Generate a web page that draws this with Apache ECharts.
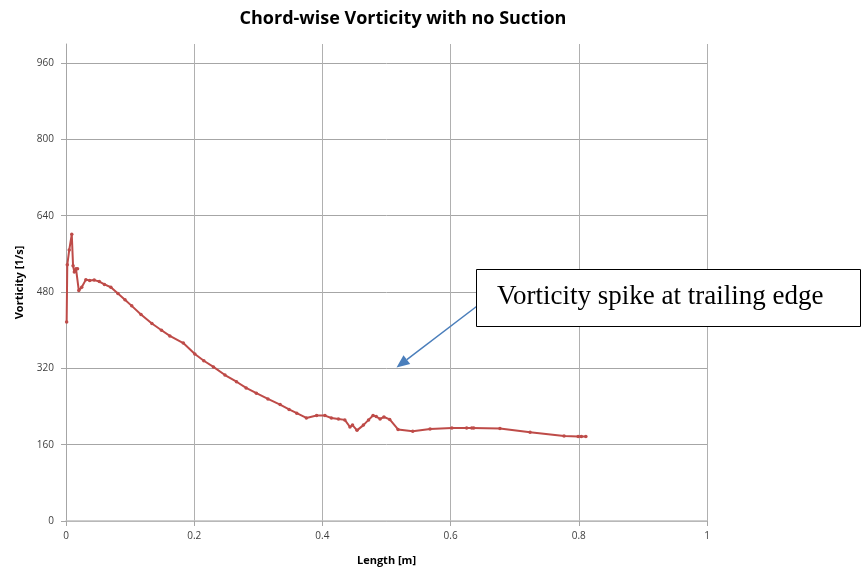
<!DOCTYPE html>
<html>
<head>
<meta charset="utf-8">
<script src="https://cdn.jsdelivr.net/npm/echarts@6/dist/echarts.min.js"></script>
<style>
  html, body { margin: 0; padding: 0; background: #fff; }
  #chart { width: 861px; height: 571px; }
</style>
</head>
<body>
<div id="chart"></div>
<script>
// chord position [m]
const lengthM = [
  0.001, 0.002, 0.005, 0.009, 0.011, 0.013, 0.0156, 0.018, 0.020, 0.0245,
  0.031, 0.037, 0.044, 0.052, 0.060, 0.070, 0.081, 0.092, 0.1025, 0.117,
  0.134, 0.149, 0.162, 0.183, 0.201, 0.215, 0.230, 0.248, 0.266, 0.281,
  0.297, 0.315, 0.334, 0.348, 0.360, 0.375, 0.391, 0.404, 0.414, 0.425,
  0.435, 0.443, 0.447, 0.454, 0.464, 0.472, 0.479, 0.484, 0.490, 0.496,
  0.505, 0.518, 0.541, 0.568, 0.602, 0.625, 0.633, 0.636, 0.677, 0.724,
  0.777, 0.799, 0.804, 0.811
];
// vorticity [1/s]
const vorticity = [
  417, 537, 568, 601, 535, 522, 529, 529, 483, 490,
  506, 504, 505, 502, 496, 490, 477, 464, 451, 433,
  414, 400, 388, 373, 350, 336, 323, 306, 292, 279,
  268, 256, 244, 234, 226, 216, 221, 221, 216, 214,
  212, 197, 201, 190, 201, 212, 221, 219, 214, 218,
  213, 192, 188, 193, 195, 195, 195, 195, 194, 186,
  178, 177, 177, 177
];

const chart = echarts.init(document.getElementById('chart'));

// annotation arrow (pixel positions of the callout)
const arrowFrom = [476.5, 306.5];
const arrowTo = [396.5, 367.5];
const dx = arrowTo[0] - arrowFrom[0], dy = arrowTo[1] - arrowFrom[1];
const len = Math.sqrt(dx * dx + dy * dy);
const ux = dx / len, uy = dy / len;
const headL = 13, headW = 5.5;
const bx = arrowTo[0] - ux * headL, by = arrowTo[1] - uy * headL;
const headPts = [
  arrowTo,
  [bx - uy * headW, by + ux * headW],
  [bx + uy * headW, by - ux * headW]
];

const labelFont = { fontFamily: 'Open Sans', fontSize: 10, color: '#404040' };

chart.setOption({
  animation: false,
  title: {
    text: 'Chord-wise Vorticity with no Suction',
    left: 398,
    top: 5,
    textAlign: 'center',
    textStyle: { fontFamily: 'Open Sans', fontSize: 18, fontWeight: 'bold', color: '#000' }
  },
  grid: { left: 66, right: 154, top: 44, bottom: 43 },
  xAxis: {
    type: 'value',
    min: 0,
    max: 1,
    interval: 0.2,
    name: 'Length [m]',
    nameLocation: 'middle',
    nameGap: 34,
    nameTextStyle: { fontFamily: 'Open Sans', fontSize: 11, fontWeight: 'bold', color: '#000' },
    axisLine: { show: true, onZero: false, lineStyle: { color: '#bfbfbf', width: 1.5 } },
    axisTick: { show: true, inside: false, length: 5, lineStyle: { color: '#a6a6a6' } },
    axisLabel: Object.assign({ margin: 10 }, labelFont),
    splitLine: { show: true, lineStyle: { color: '#b0b0b0', width: 1 } }
  },
  yAxis: {
    type: 'value',
    min: 0,
    max: 1000,
    interval: 160,
    name: 'Vorticity [1/s]',
    nameLocation: 'middle',
    nameGap: 41,
    nameTextStyle: { fontFamily: 'Open Sans', fontSize: 11, fontWeight: 'bold', color: '#000' },
    axisLine: { show: true, lineStyle: { color: '#a6a6a6' } },
    axisTick: { show: true, inside: false, length: 5, lineStyle: { color: '#a6a6a6' } },
    axisLabel: Object.assign({ margin: 12, showMaxLabel: false }, labelFont),
    splitLine: { show: true, showMaxLine: false, lineStyle: { color: '#a6a6a6', width: 1 } }
  },
  series: [{
    type: 'line',
    data: lengthM.map((x, i) => [x, vorticity[i]]),
    symbol: 'circle',
    symbolSize: 3.5,
    showAllSymbol: true,
    lineStyle: { color: '#be4b48', width: 2 },
    itemStyle: { color: '#be4b48' }
  }],
  graphic: [
    {
      type: 'polyline',
      z: 100,
      shape: { points: [arrowFrom, [bx, by]] },
      style: { stroke: '#4a7ebb', lineWidth: 1.5, fill: null }
    },
    {
      type: 'polygon',
      z: 100,
      shape: { points: headPts },
      style: { fill: '#4a7ebb' }
    },
    {
      type: 'rect',
      z: 100,
      shape: { x: 476.5, y: 269.5, width: 384, height: 57 },
      style: { fill: '#fff', stroke: '#000', lineWidth: 1 }
    },
    {
      type: 'text',
      z: 101,
      x: 497,
      y: 297,
      style: {
        text: 'Vorticity spike at trailing edge',
        font: '27px "Liberation Serif"',
        fill: '#000',
        verticalAlign: 'middle'
      }
    }
  ]
});

window.addEventListener('resize', function () { chart.resize(); });
</script>
</body>
</html>
